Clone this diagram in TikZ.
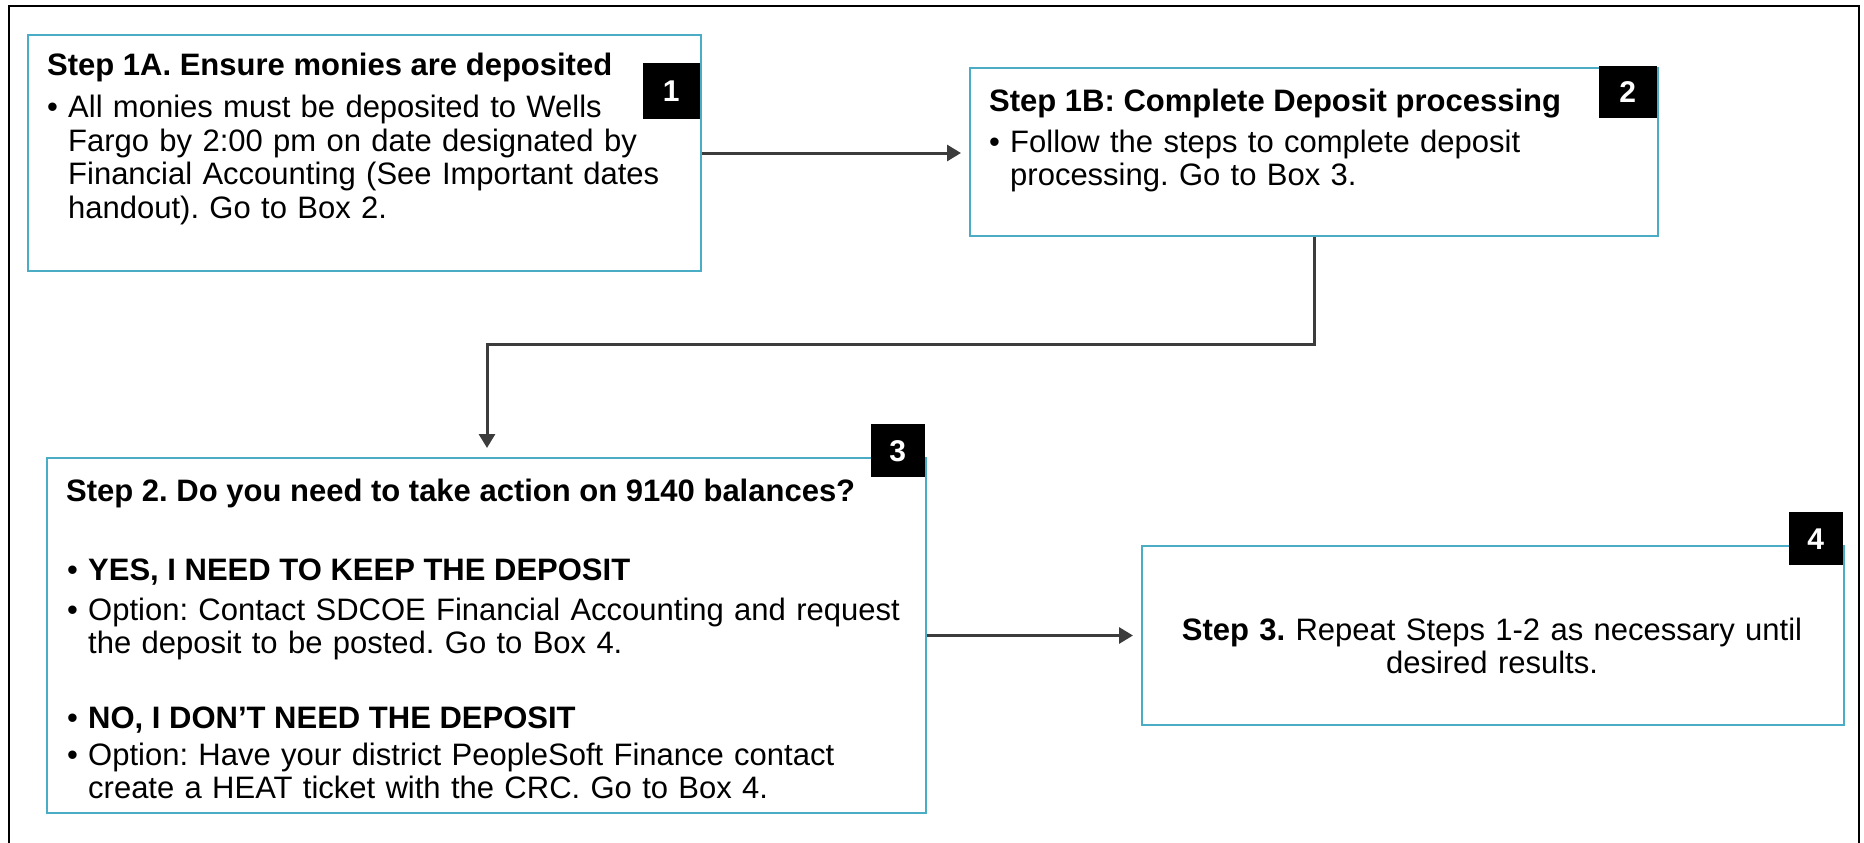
\documentclass[tikz,border=0pt]{standalone}
\usepackage{fontspec}
\setmainfont{Liberation Sans}
\usetikzlibrary{arrows.meta}
\definecolor{boxblue}{RGB}{75,172,198}
\definecolor{linkgray}{RGB}{60,60,60}
\frenchspacing

\begin{document}
\begin{tikzpicture}[x=1pt,y=-1pt,
  stepbox/.style={draw=boxblue, line width=2pt, fill=white, inner sep=0pt, anchor=north west},
  badge/.style={fill=black, text=white, inner sep=0pt, anchor=north east,
    font=\fontsize{30}{30}\selectfont\bfseries},
  txt/.style={anchor=base west, inner sep=0pt, align=left,
    font=\fontsize{31}{33.5}\selectfont},
  head/.style={txt, font=\fontsize{31}{33.5}\selectfont\bfseries},
  link/.style={draw=linkgray, line width=3pt, -{Triangle[length=14pt,width=16pt]}},
]
\useasboundingbox (0,0) rectangle (1864,843);

% outer frame, open at the bottom
\draw[line width=2pt] (9,843) -- (9,6) -- (1859,6) -- (1859,843);

% step boxes
\node[stepbox, minimum width=673pt, minimum height=236pt] (b1) at (27,34) {};
\node[stepbox, minimum width=688pt, minimum height=168pt] (b2) at (969,67) {};
\node[stepbox, minimum width=879pt, minimum height=355pt] (b3) at (46,457) {};
\node[stepbox, minimum width=702pt, minimum height=179pt] (b4) at (1141,545) {};

% number badges
\node[badge, minimum width=57pt, minimum height=56pt] (n1) at (700,63) {1};
\node[badge, minimum width=58pt, minimum height=52pt] (n2) at (1657,66) {2};
\node[badge, minimum width=54pt, minimum height=53pt] (n3) at (925,424) {3};
\node[badge, minimum width=54pt, minimum height=53pt] (n4) at (1843,512) {4};

% box 1
\node[head] (h1) at (47,75) {Step 1A. Ensure monies are deposited};
\node[txt] (u1) at (47,117.5) {\textbullet};
\node[txt, text width=640pt] (t1) at (68,117.5)
  {All monies must be deposited to Wells\\Fargo by 2:00 pm on date designated by\\Financial Accounting (See Important dates\\handout). Go to Box 2.};

% box 2
\node[head] (h2) at (989,111.5) {Step 1B: Complete Deposit processing};
\node[txt] (u2) at (989,152) {\textbullet};
\node[txt, text width=620pt] (t2) at (1010,152)
  {Follow the steps to complete deposit\\processing. Go to Box 3.};

% box 3
\node[head] (h3) at (66,501) {Step 2. Do you need to take action on 9140 balances?};
\node[txt] (u3a) at (67,580) {\textbullet};
\node[head] (t3a) at (88,580) {YES, I NEED TO KEEP THE DEPOSIT};
\node[txt] (u3b) at (67,620) {\textbullet};
\node[txt, text width=830pt] (t3b) at (88,620)
  {Option: Contact SDCOE Financial Accounting and request\\the deposit to be posted. Go to Box 4.};
\node[txt] (u3c) at (67,728) {\textbullet};
\node[head] (t3c) at (88,728) {NO, I DON’T NEED THE DEPOSIT};
\node[txt] (u3d) at (67,765) {\textbullet};
\node[txt, text width=830pt] (t3d) at (88,765)
  {Option: Have your district PeopleSoft Finance contact\\create a HEAT ticket with the CRC. Go to Box 4.};

% box 4
\node[txt, anchor=base, align=center, text width=690pt] (t4) at (1492,640)
  {\textbf{Step 3.} Repeat Steps 1-2 as necessary until\\desired results.};

% connectors
\coordinate (bend) at (487,344);
\draw[link, shorten >=8pt] (b1.east) -- (b1.east -| b2.west);
\draw[link, shorten >=9pt] (b2.south) |- (bend) -- (bend |- b3.north);
\draw[link, shorten >=8pt] (b3.east) -- (b3.east -| b4.west);
\end{tikzpicture}
\end{document}
